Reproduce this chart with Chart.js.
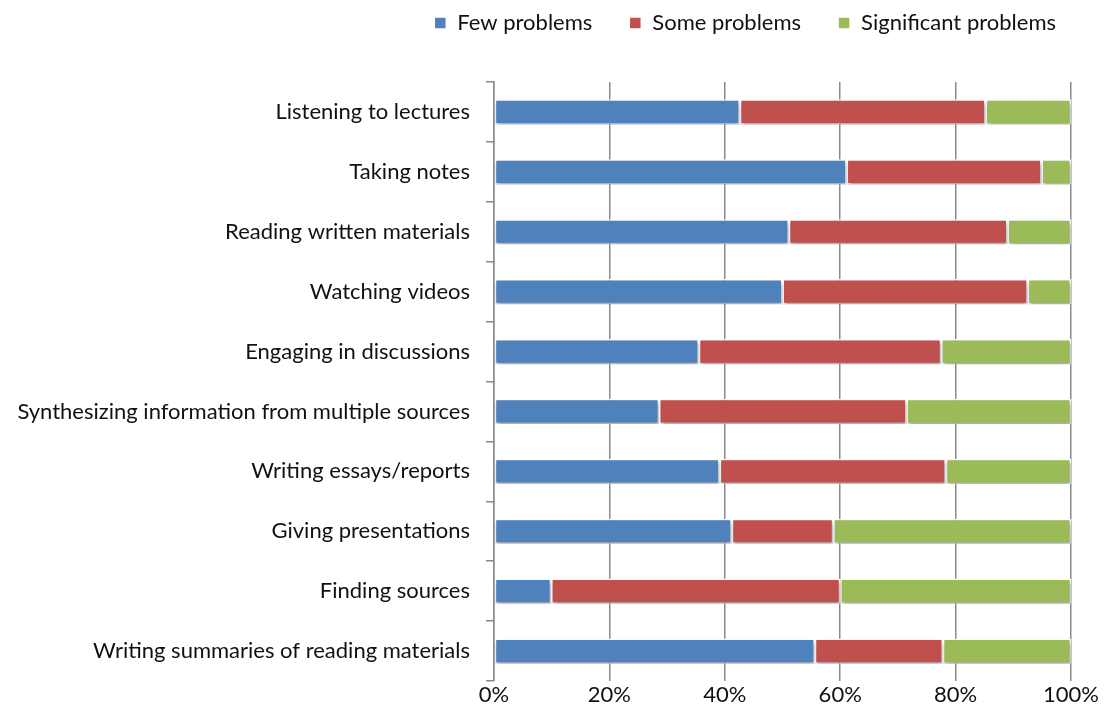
<!DOCTYPE html>
<html>
<head>
<meta charset="utf-8">
<script src="https://cdn.jsdelivr.net/npm/chart.js@4"></script>
<style>
  html, body { margin: 0; padding: 0; background: #fff; }
  #wrap { width: 1104px; height: 724px; }
</style>
</head>
<body>
<div id="wrap"><canvas id="chart" width="1104" height="724"></canvas></div>
<script>
// categories, top to bottom
const categories = [
    "Listening to lectures",
    "Taking notes",
    "Reading written materials",
    "Watching videos",
    "Engaging in discussions",
    "Synthesizing information from multiple sources",
    "Writing essays/reports",
    "Giving presentations",
    "Finding sources",
    "Writing summaries of reading materials"
];

const fewProblems = [42.6, 61.1, 51.1, 50.0, 35.5, 28.6, 39.1, 41.2, 9.9, 55.6];
const someProblems = [42.6, 33.8, 37.9, 42.5, 42.0, 42.9, 39.2, 17.6, 50.1, 22.2];
const significantProblems = [14.8, 5.1, 11.0, 7.5, 22.5, 28.5, 21.7, 41.2, 40.0, 22.2];

const seriesNames = ["Few problems", "Some problems", "Significant problems"];
const seriesColors = ['#4F81BD', '#C0504D', '#9BBB59'];
const xTicks = [0, 20, 40, 60, 80, 100];

const FONT = 'Lato, "Open Sans", sans-serif';

// soft shadow under the bars, like the office chart
const barShadow = {
    id: 'barShadow',
    beforeDatasetsDraw(chart) {
        const ctx = chart.ctx;
        ctx.save();
        ctx.shadowColor = 'rgba(0,0,0,0.35)';
        ctx.shadowBlur = 4;
        ctx.shadowOffsetX = 1;
        ctx.shadowOffsetY = 3;
    },
    afterDatasetsDraw(chart) {
        chart.ctx.restore();
    }
};

// legend needs more room below it, and sits a bit further right
const legendSpace = {
    id: 'legendSpace',
    beforeInit(chart) {
        const origFit = chart.legend.fit;
        chart.legend.fit = function () {
            origFit.bind(chart.legend)();
            this.height = 107;
        };
    },
    afterLayout(chart) {
        chart.legend.left += 22;
        chart.legend.right += 22;
    }
};

const datasets = [fewProblems, someProblems, significantProblems].map((vals, i) => ({
    label: seriesNames[i],
    data: vals,
    backgroundColor: seriesColors[i],
    borderColor: '#ffffff',
    borderWidth: 1.5,
    borderSkipped: false,
    barPercentage: 0.42,
    categoryPercentage: 1.0
}));

new Chart(document.getElementById('chart').getContext('2d'), {
    type: 'bar',
    data: { labels: categories, datasets: datasets },
    plugins: [barShadow, legendSpace],
    options: {
        indexAxis: 'y',
        responsive: false,
        animation: false,
        layout: { padding: { top: -25, right: 33, bottom: 0, left: 0 } },
        plugins: {
            legend: {
                position: 'top',
                align: 'end',
                labels: {
                    color: '#111',
                    font: { family: FONT, size: 22 },
                    boxWidth: 12,
                    boxHeight: 12,
                    padding: 37
                }
            },
            tooltip: { enabled: false }
        },
        scales: {
            x: {
                stacked: true,
                min: 0,
                max: 100,
                afterBuildTicks(scale) {
                    scale.ticks = xTicks.map(v => ({ value: v }));
                },
                afterFit(scale) { scale.height = 43; },
                border: { display: false },
                grid: {
                    color: '#8a8a8a',
                    lineWidth: 1.5,
                    drawTicks: false
                },
                ticks: {
                    color: '#111',
                    font: { family: FONT, size: 22 },
                    padding: 1,
                    callback: v => v + '%'
                }
            },
            y: {
                stacked: true,
                afterFit(scale) { scale.width = 494; },
                border: { display: true, color: '#8a8a8a', width: 1.5 },
                grid: {
                    offset: true,
                    drawOnChartArea: false,
                    color: '#8a8a8a',
                    lineWidth: 1.5,
                    tickLength: 8
                },
                ticks: {
                    color: '#111',
                    font: { family: FONT, size: 22 },
                    padding: 16
                }
            }
        }
    }
});
</script>
</body>
</html>
